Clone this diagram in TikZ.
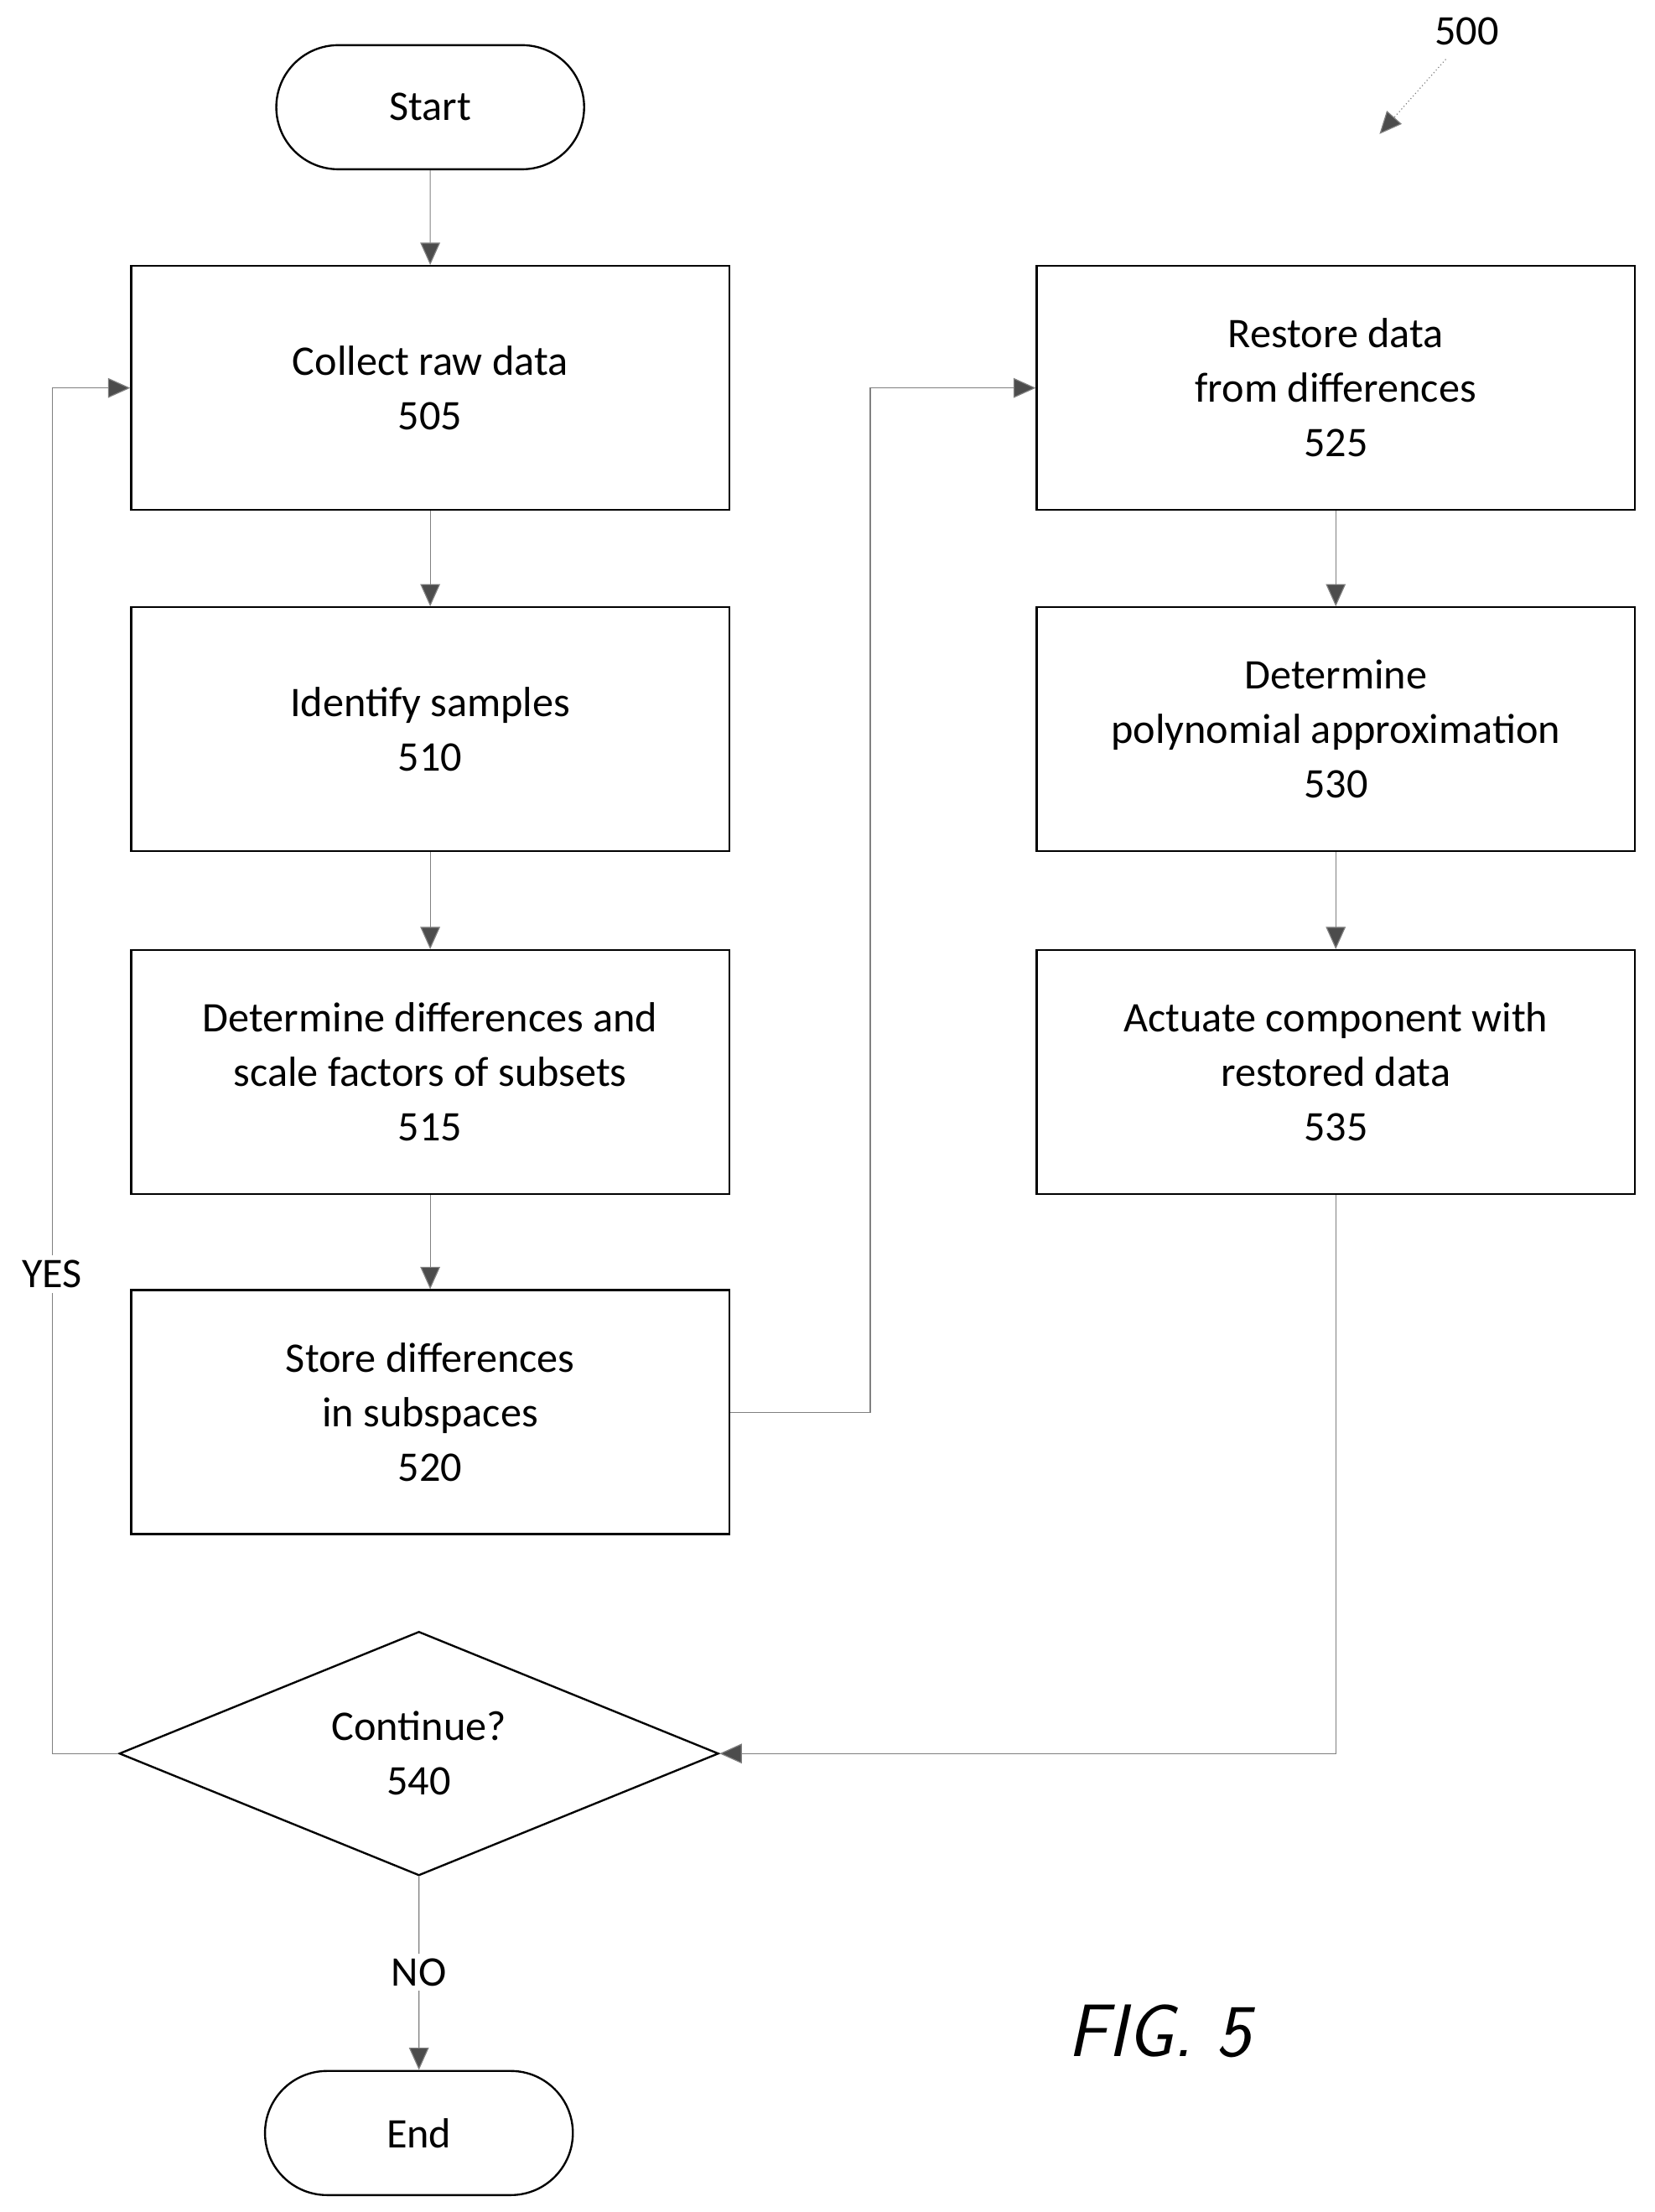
\documentclass[tikz,border=0pt]{standalone}
\usepackage{fontspec}
\setmainfont{Carlito}
\usetikzlibrary{arrows.meta,shapes.geometric}

\begin{document}
\begin{tikzpicture}[x=0.02cm, y=-0.02cm, font=\fontsize{17}{22}\selectfont,
    box/.style={draw, thick, minimum width=8.48cm, minimum height=3.46cm, align=center},
    term/.style={draw, thick, rounded rectangle, minimum width=4.6cm, minimum height=1.76cm},
    flow/.style={draw=gray, -{Triangle[length=9pt,width=8pt,fill=black!70]}}]
    \usetikzlibrary{shapes.misc}
    \useasboundingbox (0,0) rectangle (1173,1568);

    % Left column
    \node[term] (start) at (305,76) {Start};
    \node[box] (b505) at (305,275) {Collect raw data\\505};
    \node[box] (b510) at (305,517) {Identify samples\\510};
    \node[box] (b515) at (305,760) {Determine differences and\\scale factors of subsets\\515};
    \node[box] (b520) at (305,1001) {Store differences\\in subspaces\\520};

    % Right column
    \node[box] (b525) at (947,275) {Restore data\\from differences\\525};
    \node[box] (b530) at (947,517) {Determine\\polynomial approximation\\530};
    \node[box] (b535) at (947,760) {Actuate component with\\restored data\\535};

    % Decision and end
    \node[draw, thick, diamond, aspect=2.45, minimum width=8.5cm, minimum height=3.46cm,
          inner sep=0pt, align=center] (d540) at (297,1243) {Continue?\\540};
    \node[term] (end) at (297,1512) {End};

    % Connectors
    \draw[flow] (start) -- (b505);
    \draw[flow] (b505) -- (b510);
    \draw[flow] (b510) -- (b515);
    \draw[flow] (b515) -- (b520);
    \draw[flow] (b520.east) -| (617,275) -- (b525.west);
    \draw[flow] (b525) -- (b530);
    \draw[flow] (b530) -- (b535);
    \draw[flow] (b535.south) |- (d540.east);
    \draw[flow] (d540.west) -| (37,275) -- (b505.west);
    \draw[flow] (d540.south) -- (end);

    % Labels
    \node[fill=white, inner sep=2pt] (yes) at (37,903) {YES};
    \node[fill=white, inner sep=2pt] (no) at (297,1398) {NO};
    \node (ref) at (1040,22) {500};
    \coordinate (refend) at (978,95);
    \draw[flow, densely dotted] (1025,42) -- (refend);
    \node[font=\sffamily\itshape\fontsize{30}{34}\selectfont] (fig) at (822,1440) {FIG. 5};
\end{tikzpicture}
\end{document}
